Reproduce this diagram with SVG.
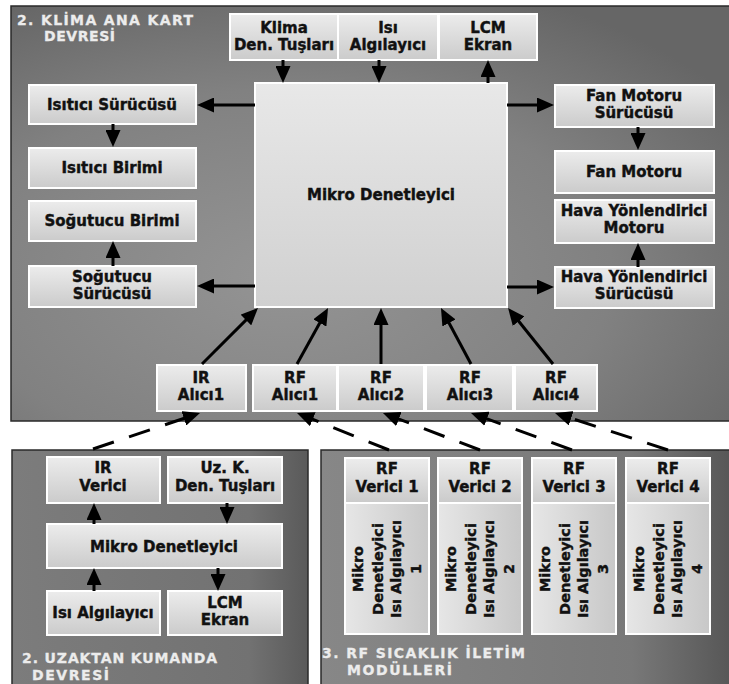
<svg xmlns="http://www.w3.org/2000/svg" width="729" height="684" viewBox="0 0 729 684">
<defs>
<radialGradient id="gMain" cx="0.38" cy="0.65" r="0.75">
<stop offset="0" stop-color="#949494"/>
<stop offset="0.6" stop-color="#818181"/>
<stop offset="1" stop-color="#666666"/>
</radialGradient>
<linearGradient id="gLL" x1="0" y1="0" x2="1" y2="0">
<stop offset="0" stop-color="#7c7c7c"/>
<stop offset="0.8" stop-color="#727272"/>
<stop offset="1" stop-color="#5a5a5a"/>
</linearGradient>
<linearGradient id="gLR" x1="0" y1="0" x2="1" y2="0">
<stop offset="0" stop-color="#878787"/>
<stop offset="0.75" stop-color="#787878"/>
<stop offset="1" stop-color="#555555"/>
</linearGradient>
<linearGradient id="gBox" x1="0" y1="0" x2="0" y2="1">
<stop offset="0" stop-color="#ececec"/>
<stop offset="1" stop-color="#cbcbcb"/>
</linearGradient>
<linearGradient id="gBig" x1="0" y1="0" x2="0" y2="1">
<stop offset="0" stop-color="#e8e8e8"/>
<stop offset="1" stop-color="#d0d0d0"/>
</linearGradient>
<linearGradient id="gBody" x1="0" y1="0" x2="1" y2="0">
<stop offset="0" stop-color="#e6e6e6"/>
<stop offset="1" stop-color="#c8c8c8"/>
</linearGradient>
<marker id="ah" viewBox="0 0 17 15" refX="7" refY="7.5" markerWidth="17" markerHeight="15" markerUnits="userSpaceOnUse" orient="auto">
<path d="M0,0 L17,7.5 L0,15 Z" fill="#000"/>
</marker>
<style>
.panel{stroke:#2a2a2a;stroke-width:1.5}
.box{fill:url(#gBox);stroke:#fff;stroke-width:2}
.big{fill:url(#gBig);stroke:#fff;stroke-width:2}
.t{font-family:"DejaVu Sans","Liberation Sans",sans-serif;font-weight:bold;font-size:15px;fill:#111;stroke:#111;stroke-width:0.4px;text-anchor:middle}
.v{font-size:14.5px}
.title{font-family:"DejaVu Sans","Liberation Sans",sans-serif;font-weight:bold;font-size:14px;fill:#ececec;stroke:#ececec;stroke-width:0.3px}
.c{stroke:#000;stroke-width:3;fill:none;marker-end:url(#ah)}
.d{stroke-dasharray:22 16}
</style>
</defs>
<rect x="0" y="0" width="729" height="684" fill="#fff"/>

<g id="panel-main">
<rect class="panel" x="11" y="6" width="725" height="415" fill="url(#gMain)"/>
<text class="title" x="17" y="25" textLength="176" lengthAdjust="spacing">2. KLİMA ANA KART</text>
<text class="title" x="44" y="40.5" textLength="71" lengthAdjust="spacing">DEVRESİ</text>
</g>
<g id="panel-remote">
<rect class="panel" x="12" y="450" width="296" height="240" fill="url(#gLL)"/>
<text class="title" x="22" y="663" textLength="195" lengthAdjust="spacing">2. UZAKTAN KUMANDA</text>
<text class="title" x="32" y="679.5" textLength="77" lengthAdjust="spacing">DEVRESİ</text>
</g>
<g id="panel-rf">
<rect class="panel" x="321" y="450" width="415" height="240" fill="url(#gLR)"/>
<text class="title" x="322" y="658" textLength="203" lengthAdjust="spacing">3. RF SICAKLIK İLETİM</text>
<text class="title" x="347" y="674.5" textLength="105" lengthAdjust="spacing">MODÜLLERİ</text>
</g>

<g id="klima-tuslari"><rect class="box" x="230" y="14" width="108" height="46"/><text class="t" x="284" y="32.5">Klima</text><text class="t" x="284" y="49.5">Den. Tuşları</text></g>
<g id="isi-algilayici"><rect class="box" x="338" y="14" width="100" height="46"/><text class="t" x="388" y="32.5">Isı</text><text class="t" x="388" y="49.5">Algılayıcı</text></g>
<g id="lcm-ekran"><rect class="box" x="439" y="14" width="98" height="46"/><text class="t" x="488" y="32.5">LCM</text><text class="t" x="488" y="49.5">Ekran</text></g>
<g id="mikro-denetleyici"><rect class="big" x="255" y="83" width="252" height="224"/><text class="t" x="381" y="200">Mikro Denetleyici</text></g>
<g id="isitici-surucusu"><rect class="box" x="29" y="85" width="167" height="39"/><text class="t" x="112" y="110">Isıtıcı Sürücüsü</text></g>
<g id="isitici-birimi"><rect class="box" x="29" y="148" width="167" height="40"/><text class="t" x="112" y="173">Isıtıcı Birimi</text></g>
<g id="sogutucu-birimi"><rect class="box" x="29" y="201" width="167" height="40"/><text class="t" x="112" y="226">Soğutucu Birimi</text></g>
<g id="sogutucu-surucusu"><rect class="box" x="29" y="266" width="167" height="41"/><text class="t" x="112" y="282">Soğutucu</text><text class="t" x="112" y="299">Sürücüsü</text></g>
<g id="fan-motoru-surucusu"><rect class="box" x="555" y="85" width="159" height="42"/><text class="t" x="634" y="100.5">Fan Motoru</text><text class="t" x="634" y="117.5">Sürücüsü</text></g>
<g id="fan-motoru"><rect class="box" x="555" y="151" width="159" height="42"/><text class="t" x="634" y="177">Fan Motoru</text></g>
<g id="hava-motoru"><rect class="box" x="555" y="200" width="159" height="43"/><text class="t" x="634" y="216">Hava Yönlendirici</text><text class="t" x="634" y="233">Motoru</text></g>
<g id="hava-surucusu"><rect class="box" x="555" y="267" width="159" height="41"/><text class="t" x="634" y="282">Hava Yönlendirici</text><text class="t" x="634" y="299">Sürücüsü</text></g>

<g id="ir-alici1"><rect class="box" x="157" y="365" width="89" height="46"/><text class="t" x="201" y="383">IR</text><text class="t" x="201" y="400">Alıcı1</text></g>
<g id="rf-alici1"><rect class="box" x="253" y="365" width="84" height="46"/><text class="t" x="295" y="383">RF</text><text class="t" x="295" y="400">Alıcı1</text></g>
<g id="rf-alici2"><rect class="box" x="338" y="365" width="86" height="46"/><text class="t" x="381" y="383">RF</text><text class="t" x="381" y="400">Alıcı2</text></g>
<g id="rf-alici3"><rect class="box" x="426" y="365" width="87" height="46"/><text class="t" x="470" y="383">RF</text><text class="t" x="470" y="400">Alıcı3</text></g>
<g id="rf-alici4"><rect class="box" x="515" y="365" width="82" height="46"/><text class="t" x="556" y="383">RF</text><text class="t" x="556" y="400">Alıcı4</text></g>

<g id="ir-verici"><rect class="box" x="47" y="457" width="113" height="46"/><text class="t" x="103" y="473">IR</text><text class="t" x="103" y="491">Verici</text></g>
<g id="uzk-tuslari"><rect class="box" x="168" y="457" width="114" height="46"/><text class="t" x="225" y="473">Uz. K.</text><text class="t" x="225" y="491">Den. Tuşları</text></g>
<g id="uzk-mikro"><rect class="box" x="47" y="524" width="235" height="44"/><text class="t" x="164" y="551.5">Mikro Denetleyici</text></g>
<g id="uzk-isi"><rect class="box" x="47" y="591" width="113" height="44"/><text class="t" x="103" y="618">Isı Algılayıcı</text></g>
<g id="uzk-lcm"><rect class="box" x="168" y="591" width="114" height="44"/><text class="t" x="225" y="608">LCM</text><text class="t" x="225" y="625">Ekran</text></g>

<g id="rf-verici1"><rect x="344" y="457" width="86" height="178" fill="#fff"/><rect x="346" y="459" width="82" height="43" fill="url(#gBox)"/><rect x="346" y="504" width="82" height="129" fill="url(#gBody)"/><text class="t" x="387" y="474">RF</text><text class="t" x="387" y="492">Verici 1</text>
<g transform="translate(387,569) rotate(-90)"><text class="t v" x="0" y="-24.5">Mikro</text><text class="t v" x="0" y="-4.5">Denetleyici</text><text class="t v" x="0" y="14">Isı Algılayıcı</text><text class="t v" x="0" y="34">1</text></g></g>
<g id="rf-verici2"><rect x="437" y="457" width="86" height="178" fill="#fff"/><rect x="439" y="459" width="82" height="43" fill="url(#gBox)"/><rect x="439" y="504" width="82" height="129" fill="url(#gBody)"/><text class="t" x="480" y="474">RF</text><text class="t" x="480" y="492">Verici 2</text>
<g transform="translate(480,569) rotate(-90)"><text class="t v" x="0" y="-24.5">Mikro</text><text class="t v" x="0" y="-4.5">Denetleyici</text><text class="t v" x="0" y="14">Isı Algılayıcı</text><text class="t v" x="0" y="34">2</text></g></g>
<g id="rf-verici3"><rect x="531" y="457" width="86" height="178" fill="#fff"/><rect x="533" y="459" width="82" height="43" fill="url(#gBox)"/><rect x="533" y="504" width="82" height="129" fill="url(#gBody)"/><text class="t" x="574" y="474">RF</text><text class="t" x="574" y="492">Verici 3</text>
<g transform="translate(574,569) rotate(-90)"><text class="t v" x="0" y="-24.5">Mikro</text><text class="t v" x="0" y="-4.5">Denetleyici</text><text class="t v" x="0" y="14">Isı Algılayıcı</text><text class="t v" x="0" y="34">3</text></g></g>
<g id="rf-verici4"><rect x="625" y="457" width="86" height="178" fill="#fff"/><rect x="627" y="459" width="82" height="43" fill="url(#gBox)"/><rect x="627" y="504" width="82" height="129" fill="url(#gBody)"/><text class="t" x="668" y="474">RF</text><text class="t" x="668" y="492">Verici 4</text>
<g transform="translate(668,569) rotate(-90)"><text class="t v" x="0" y="-24.5">Mikro</text><text class="t v" x="0" y="-4.5">Denetleyici</text><text class="t v" x="0" y="14">Isı Algılayıcı</text><text class="t v" x="0" y="34">4</text></g></g>

<g id="connectors">
<path class="c" d="M283,60 L283,73"/>
<path class="c" d="M379,60 L379,73"/>
<path class="c" d="M488,83 L488,70"/>
<path class="c" d="M255,105 L207,105"/>
<path class="c" d="M255,286 L207,286"/>
<path class="c" d="M113,124 L113,137"/>
<path class="c" d="M113,266 L113,251"/>
<path class="c" d="M507,105 L544,105"/>
<path class="c" d="M507,287 L544,287"/>
<path class="c" d="M638,127 L638,140"/>
<path class="c" d="M638,267 L638,253"/>
<path class="c" d="M202,364 L250.9,315.1"/>
<path class="c" d="M297,364 L323.2,316.8"/>
<path class="c" d="M381,364 L381,318"/>
<path class="c" d="M471,364 L445.7,316.8"/>
<path class="c" d="M553,364 L514.3,315.8"/>
<path class="c" d="M94,524 L94,513"/>
<path class="c" d="M227,503 L227,514"/>
<path class="c" d="M94,591 L94,578"/>
<path class="c" d="M218,568 L218,581"/>
<path class="c d" d="M93,449 L190.5,416.2"/>
<path class="c d" d="M389,450 L306.3,416.7"/>
<path class="c d" d="M480,450 L392.3,416.6"/>
<path class="c d" d="M572,450 L480.4,416.4"/>
<path class="c d" d="M668,450 L564.5,416.1"/>
</g>
</svg>
